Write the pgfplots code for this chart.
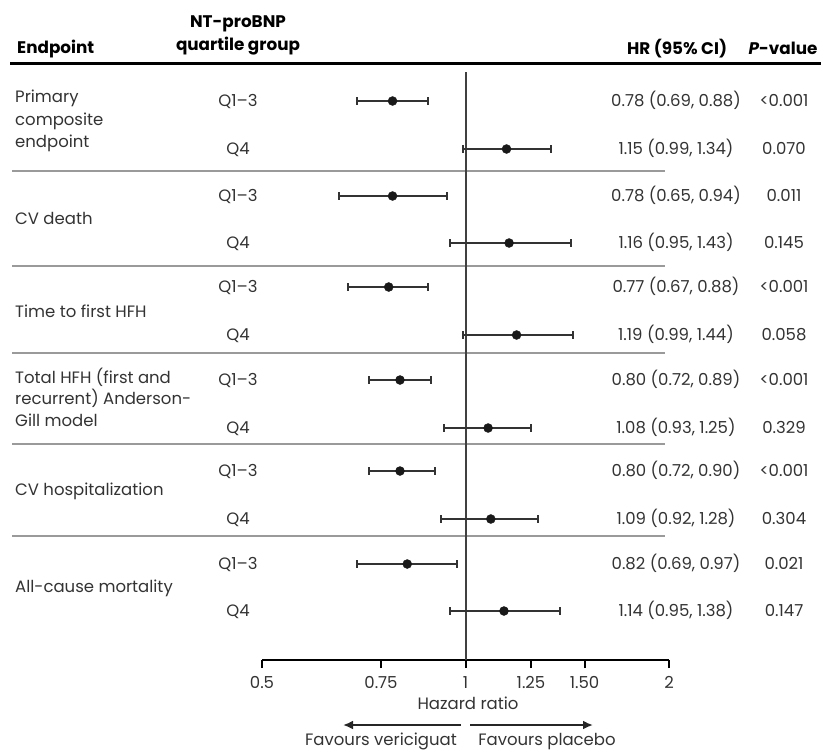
\documentclass[border=0pt]{standalone}
\usepackage{pgfplots}
\pgfplotsset{compat=1.18}
\usepackage{fontspec}
\setmainfont{Poppins}
\usetikzlibrary{arrows.meta}
\definecolor{txt}{HTML}{333333}
\definecolor{sepc}{HTML}{9A9A9A}
\newcommand{\fs}{\fontsize{16.5}{19}\selectfont}
\newcommand{\fb}{\fontsize{16.8}{19}\selectfont\bfseries}
\begin{document}
\begin{tikzpicture}[font=\fs]
\path[use as bounding box] (0pt,0pt) rectangle (821pt,-753pt);
% header
\node[anchor=base west, font=\fb, text=black, inner sep=0pt] at (17pt,-53pt) {Endpoint};
\node[anchor=base, font=\fb, text=black] at (238pt,-27pt) {NT-proBNP};
\node[anchor=base, font=\fb, text=black] at (238pt,-50pt) {quartile group};
\node[anchor=base, font=\fb, text=black] at (677pt,-54pt) {HR (95\% CI)};
\node[anchor=base, font=\fb, text=black, inner sep=0pt] at (783pt,-54pt) {\textit{P}-value};
\draw[line width=3pt, black] (10pt,-63pt) -- (821pt,-63pt);
% separators
\foreach \yy in {171,266,353,444,536}{
  \draw[line width=2pt, sepc] (12pt,-\yy pt) -- (665pt,-\yy pt);
}
% endpoint names
\begin{scope}[every node/.style={anchor=base west, text=txt, inner sep=0pt}]
\node at (15pt,-102pt) {Primary};
\node at (15pt,-125pt) {composite};
\node at (15pt,-147pt) {endpoint};
\node at (15pt,-224pt) {CV death};
\node at (15pt,-317pt) {Time to first HFH};
\node at (15pt,-383pt) {Total HFH (first and};
\node at (15pt,-404pt) {recurrent) Anderson-};
\node at (15pt,-426pt) {Gill model};
\node at (15pt,-495pt) {CV hospitalization};
\node at (15pt,-592pt) {All-cause mortality};
\end{scope}
% group labels, HR, p
\begin{scope}[every node/.style={anchor=base, text=txt, inner sep=0pt}]
\foreach \yy/\g/\hr/\p in {
 101/Q1--3/{0.78 (0.69, 0.88)}/{<0.001},
 149/Q4/{1.15 (0.99, 1.34)}/{0.070},
 196/Q1--3/{0.78 (0.65, 0.94)}/{0.011},
 243/Q4/{1.16 (0.95, 1.43)}/{0.145},
 287/Q1--3/{0.77 (0.67, 0.88)}/{<0.001},
 335/Q4/{1.19 (0.99, 1.44)}/{0.058},
 380/Q1--3/{0.80 (0.72, 0.89)}/{<0.001},
 428/Q4/{1.08 (0.93, 1.25)}/{0.329},
 471/Q1--3/{0.80 (0.72, 0.90)}/{<0.001},
 519/Q4/{1.09 (0.92, 1.28)}/{0.304},
 564/Q1--3/{0.82 (0.69, 0.97)}/{0.021},
 611/Q4/{1.14 (0.95, 1.38)}/{0.147}}{
  \node at (238pt,-\yy pt-5.5pt) {\g};
  \node at (676pt,-\yy pt-5.5pt) {\hr};
  \node at (784pt,-\yy pt-5.5pt) {\p};
}
\end{scope}
\begin{axis}[
  at={(262pt,-660pt)}, anchor=south west,
  scale only axis, width=407pt, height=596pt,
  xmode=log, xmin=0.5, xmax=2, ymin=-660, ymax=-64,
  axis x line*=bottom, axis y line=none,
  x axis line style={line width=2.2pt, -},
  xtick={0.5,0.75,1,1.25,1.5,2},
  xticklabels={0.5,0.75,1,1.25,1.50,2},
  xminorticks=false,
  tick align=outside, major tick length=8pt,
  every tick/.style={line width=2pt, black},
  xticklabel style={font=\fs, text=txt, yshift=-5pt},
  clip=false,
]
\draw[line width=2pt, black!75] (axis cs:1,-660) -- (axis cs:1,-72);
\pgfplotsset{ci/.style={line width=2pt, black!80, mark=|, mark size=4pt, mark options={line width=2pt}}}
\addplot[ci] coordinates {(0.69,-101) (0.88,-101)};
\addplot[ci] coordinates {(0.99,-149) (1.34,-149)};
\addplot[ci] coordinates {(0.65,-196) (0.94,-196)};
\addplot[ci] coordinates {(0.95,-243) (1.43,-243)};
\addplot[ci] coordinates {(0.67,-287) (0.88,-287)};
\addplot[ci] coordinates {(0.99,-335) (1.44,-335)};
\addplot[ci] coordinates {(0.72,-380) (0.89,-380)};
\addplot[ci] coordinates {(0.93,-428) (1.25,-428)};
\addplot[ci] coordinates {(0.72,-471) (0.90,-471)};
\addplot[ci] coordinates {(0.92,-519) (1.28,-519)};
\addplot[ci] coordinates {(0.69,-564) (0.97,-564)};
\addplot[ci] coordinates {(0.95,-611) (1.38,-611)};
\addplot[only marks, mark=*, mark size=4.5pt, black!90] coordinates {
 (0.78,-101) (1.15,-149) (0.78,-196) (1.16,-243) (0.77,-287) (1.19,-335)
 (0.80,-380) (1.08,-428) (0.80,-471) (1.09,-519) (0.82,-564) (1.14,-611)};
\end{axis}
\node[anchor=base, text=txt] at (468pt,-709pt) {Hazard ratio};
\draw[line width=2.2pt, black!85, -{Latex[length=10pt,width=9pt]}] (461pt,-725pt) -- (343pt,-725pt);
\draw[line width=2.2pt, black!85, -{Latex[length=10pt,width=9pt]}] (470pt,-725pt) -- (593pt,-725pt);
\node[anchor=base, text=txt] at (381pt,-745pt) {Favours vericiguat};
\node[anchor=base, text=txt] at (547pt,-745pt) {Favours placebo};
\end{tikzpicture}
\end{document}
